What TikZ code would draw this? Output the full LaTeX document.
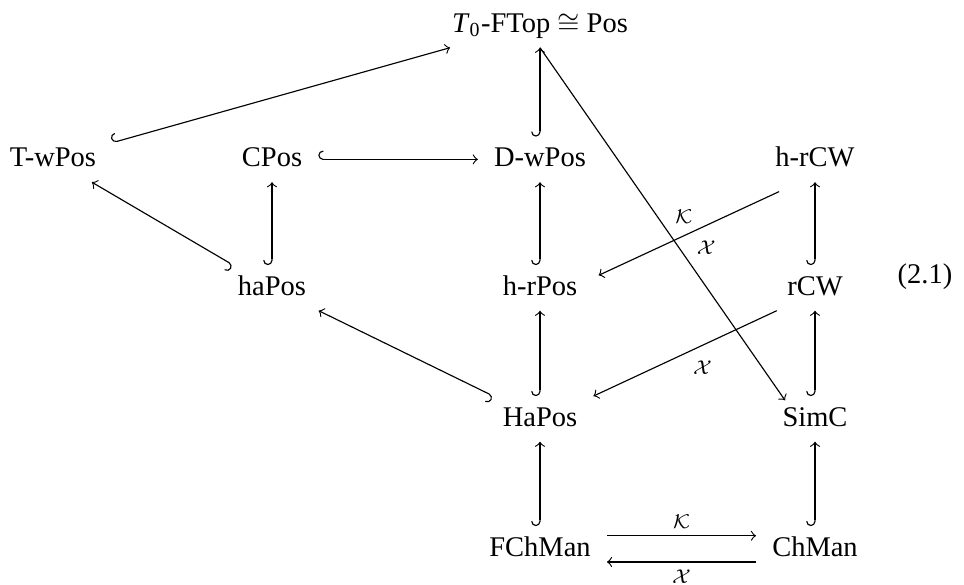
\documentclass[tikz,border=0pt]{standalone}
\usepackage{amsmath}
\usepackage{amssymb}
\usepackage{fontspec}
\setmainfont{Liberation Serif}
\usetikzlibrary{arrows}

\begin{document}
\begin{tikzpicture}[x=0.351pt,y=-0.351pt,>=to,
        obj/.style={anchor=base,text height=7pt,text depth=2pt,inner xsep=5.5pt,inner ysep=3.3pt},
        incl/.style={right hook->},
        lab/.style={auto,font=\scriptsize,inner sep=2.5pt}]
    \useasboundingbox (0,0) rectangle (964,584);
    % objects
    \node[obj] (top) at (540,32) {\textit{T}\textsubscript{0}-FTop $\cong$ Pos};
    \node[obj] (tw) at (53,166.5) {T-wPos};
    \node[obj] (cp) at (272,166.5) {CPos};
    \node[obj] (dw) at (540,166.5) {D-wPos};
    \node[obj] (hcw) at (815,166.5) {h-rCW};
    \node[obj] (hap) at (272,295) {haPos};
    \node[obj] (hrp) at (540,295) {h-rPos};
    \node[obj] (rcw) at (815,295) {rCW};
    \node[obj] (Hap) at (540,426) {HaPos};
    \node[obj] (sim) at (815,426) {SimC};
    \node[obj] (fch) at (540,556) {FChMan};
    \node[obj] (chm) at (815,556) {ChMan};
    \node[anchor=base] (eqno) at (925,283.5) {(2.1)};
    % inclusions
    \draw[incl] (tw) -- ([xshift=5pt]top.south west);
    \draw[incl] (dw) -- (top);
    \draw[incl] (cp) -- (dw);
    \draw[incl] (hap) -- (tw);
    \draw[incl] (hap) -- (cp);
    \draw[incl] (hrp) -- (dw);
    \draw[incl] (Hap) -- (hap);
    \draw[incl] (Hap) -- (hrp);
    \draw[incl] (fch) -- (Hap);
    \draw[incl] (chm) -- (sim);
    \draw[incl] (sim) -- (rcw);
    \draw[incl] (rcw) -- (hcw);
    % functors
    \draw[->] (top.south) -- node[lab,pos=0.52] {$\mathcal{K}$} ([xshift=-10.5pt,yshift=-1.5pt]sim.north);
    \draw[->] ([xshift=7pt,yshift=-3.3pt]hcw.south west) -- node[lab] {$\mathcal{X}$} ([xshift=1.8pt,yshift=-3.6pt]hrp.north east);
    \draw[->] ([xshift=2pt]rcw.south west) -- node[lab] {$\mathcal{X}$} (Hap.north east);
    \draw[->] ([yshift=4.6pt]fch.east) -- node[lab] {$\mathcal{K}$} ([yshift=4.6pt]chm.west);
    \draw[->] ([yshift=-4.6pt]chm.west) -- node[lab] {$\mathcal{X}$} ([yshift=-4.6pt]fch.east);
\end{tikzpicture}
\end{document}
